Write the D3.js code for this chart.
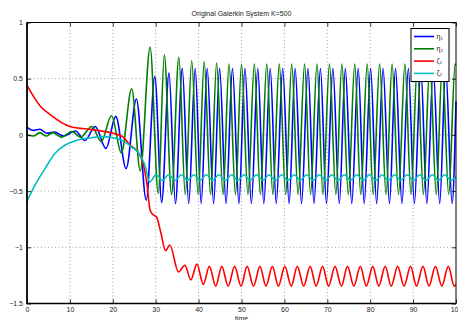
<!DOCTYPE html>
<html>
<head>
<meta charset="utf-8">
<script src="https://cdn.jsdelivr.net/npm/d3@7"></script>
<style>
  html, body { margin: 0; padding: 0; background: #fff; }
  svg { display: block; font-family: 'Liberation Sans', Arial, sans-serif; }
</style>
</head>
<body>
<div id="chart"></div>
<script>
// values, [time, value]
const eta1 = [
  [0, 0.07], [1.5, 0.04], [3, 0.05], [4.6, 0.015], [6.5, 0.025], [8.5, -0.01], [11.3, 0.035],
  [13.5, -0.05], [15.9, 0.075], [18.4, -0.12], [20.7, 0.165], [23.1, -0.30], [25.5, 0.32],
  [27.8, -0.58], [29.8, 0.52], [31.4, -0.60], [33.1, 0.55], [34.6, -0.61], [36.2, 0.59],
  [37.7, -0.61], [39.2, 0.59], [40.6, -0.61], [42.0, 0.59], [43.5, -0.61], [44.9, 0.59],
  [46.4, -0.61], [47.9, 0.59], [49.4, -0.61], [50.8, 0.59], [52.3, -0.61], [53.8, 0.59],
  [55.2, -0.61], [56.7, 0.59], [58.1, -0.61], [59.6, 0.59], [61.1, -0.61], [62.5, 0.59],
  [64.0, -0.61], [65.5, 0.59], [66.9, -0.61], [68.4, 0.59], [69.8, -0.61], [71.3, 0.59],
  [72.8, -0.61], [74.2, 0.59], [75.7, -0.61], [77.2, 0.59], [78.6, -0.61], [80.1, 0.59],
  [81.5, -0.61], [83.0, 0.59], [84.5, -0.61], [85.9, 0.59], [87.4, -0.61], [88.9, 0.59],
  [90.3, -0.61], [91.8, 0.59], [93.2, -0.61], [94.7, 0.59], [96.2, -0.61], [97.6, 0.59],
  [99.1, -0.61], [100, 0.3]
];
const eta2 = [
  [0, 0.0], [1.5, -0.01], [3, 0.02], [4.5, -0.01], [6, 0.02], [8, -0.02], [10.5, 0.03],
  [12.5, -0.02], [15.1, 0.075], [17.3, -0.06], [19.7, 0.17], [22.0, -0.16], [24.4, 0.41],
  [26.4, -0.32], [28.7, 0.78], [30.6, -0.52], [32.0, 0.71], [33.7, -0.53], [35.4, 0.69],
  [36.9, -0.53], [38.4, 0.66], [39.9, -0.53], [41.3, 0.65], [42.8, -0.53], [44.2, 0.64],
  [45.7, -0.53], [47.1, 0.63], [48.6, -0.53], [50.0, 0.63], [51.5, -0.53], [53.0, 0.63],
  [54.4, -0.53], [55.9, 0.63], [57.3, -0.53], [58.8, 0.63], [60.3, -0.53], [61.7, 0.63],
  [63.2, -0.53], [64.7, 0.63], [66.1, -0.53], [67.6, 0.63], [69.0, -0.53], [70.5, 0.63],
  [72.0, -0.53], [73.4, 0.63], [74.9, -0.53], [76.4, 0.63], [77.8, -0.53], [79.3, 0.63],
  [80.7, -0.53], [82.2, 0.63], [83.7, -0.53], [85.1, 0.63], [86.6, -0.53], [88.1, 0.63],
  [89.5, -0.53], [91.0, 0.63], [92.4, -0.53], [93.9, 0.63], [95.4, -0.53], [96.8, 0.63],
  [98.3, -0.53], [99.8, 0.63], [100, 0.62]
];
const zeta1 = [
  [0, 0.44], [3, 0.26], [5.4, 0.18], [10, 0.075], [15.5, 0.045], [20, 0.015], [22.3, -0.015],
  [24, -0.09], [26, -0.16], [27.1, -0.26], [28, -0.45], [28.7, -0.67], [29.4, -0.71],
  [30.2, -0.73], [31.2, -0.87], [32.3, -1.03], [33.3, -0.98], [35.3, -1.22], [36.8, -1.16],
  [38.2, -1.29], [39.6, -1.15], [41.1, -1.33], [42.5, -1.17], [44.0, -1.345], [45.4, -1.17],
  [46.9, -1.345], [48.4, -1.17], [49.9, -1.345], [51.3, -1.17], [52.8, -1.345], [54.3, -1.17],
  [55.7, -1.345], [57.2, -1.17], [58.6, -1.345], [60.1, -1.17], [61.6, -1.345], [63.0, -1.17],
  [64.5, -1.345], [66.0, -1.17], [67.4, -1.345], [68.9, -1.17], [70.3, -1.345], [71.8, -1.17],
  [73.3, -1.345], [74.7, -1.17], [76.2, -1.345], [77.7, -1.17], [79.1, -1.345], [80.6, -1.17],
  [82.0, -1.345], [83.5, -1.17], [84.9, -1.345], [86.4, -1.17], [87.9, -1.345], [89.4, -1.17],
  [90.8, -1.345], [92.3, -1.17], [93.7, -1.345], [95.2, -1.17], [96.7, -1.345], [98.2, -1.17],
  [99.6, -1.345], [100, -1.33]
];
const zeta2 = [
  [0, -0.59], [1.9, -0.445], [4.2, -0.30], [6.5, -0.165], [8.9, -0.09], [11.2, -0.053],
  [13.1, -0.035], [15, -0.025], [17.5, -0.015], [20, -0.025], [22.5, -0.055], [24.5, -0.11],
  [26.2, -0.17], [27.5, -0.27], [28.6, -0.42], [30.1, -0.355], [31.6, -0.405], [33.0, -0.355],
  [34.5, -0.405], [36.0, -0.355], [37.4, -0.405], [38.9, -0.355], [40.3, -0.405], [41.8, -0.355],
  [43.3, -0.405], [44.7, -0.355], [46.2, -0.405], [47.7, -0.355], [49.1, -0.405], [50.6, -0.355],
  [52.0, -0.405], [53.5, -0.355], [55.0, -0.405], [56.4, -0.355], [57.9, -0.405], [59.4, -0.355],
  [60.8, -0.405], [62.3, -0.355], [63.7, -0.405], [65.2, -0.355], [66.7, -0.405], [68.1, -0.355],
  [69.6, -0.405], [71.1, -0.355], [72.5, -0.405], [74.0, -0.355], [75.4, -0.405], [76.9, -0.355],
  [78.4, -0.405], [79.8, -0.355], [81.3, -0.405], [82.8, -0.355], [84.2, -0.405], [85.7, -0.355],
  [87.1, -0.405], [88.6, -0.355], [90.1, -0.405], [91.5, -0.355], [93.0, -0.405], [94.5, -0.355],
  [95.9, -0.405], [97.4, -0.355], [98.8, -0.405], [100, -0.37]
];

const seriesNames = ['η₁', 'η₂', 'ζ₂', 'ζ₂'];
const seriesColors = ['#0000ff', '#008000', '#ff0000', '#00bfbf'];
const xTicks = [0, 10, 20, 30, 40, 50, 60, 70, 80, 90, 100];
const yTicks = [1, 0.5, 0, -0.5, -1, -1.5];
const yTickLabels = ['1', '0.5', '0', '\u22120.5', '\u22121', '\u22121.5'];
const titleText = 'Original Galerkin System K=500';
const xLabelText = 'time';

const W = 458, H = 320;
const margin = { top: 22.5, right: 2, bottom: 16.5, left: 27 };
const width = W - margin.left - margin.right;
const height = H - margin.top - margin.bottom;

const svg = d3.select('#chart')
  .append('svg')
  .attr('width', W)
  .attr('height', H);

const g = svg.append('g')
  .attr('transform', `translate(${margin.left},${margin.top})`);

const x = d3.scaleLinear().domain([0, 100]).range([0, width]);
const y = d3.scaleLinear().domain([-1.5, 1]).range([height, 0]);

// dotted grid
g.append('g')
  .selectAll('line')
  .data(xTicks.slice(1, -1))
  .enter()
  .append('line')
  .attr('x1', d => x(d)).attr('x2', d => x(d))
  .attr('y1', 0).attr('y2', height)
  .attr('stroke', '#8a8a8a')
  .attr('stroke-width', 0.8)
  .attr('stroke-dasharray', '1,2.5');

g.append('g')
  .selectAll('line')
  .data(yTicks.slice(1, -1))
  .enter()
  .append('line')
  .attr('x1', 0).attr('x2', width)
  .attr('y1', d => y(d)).attr('y2', d => y(d))
  .attr('stroke', '#8a8a8a')
  .attr('stroke-width', 0.8)
  .attr('stroke-dasharray', '1,2.5');

// series
const line = d3.line()
  .x(d => x(d[0]))
  .y(d => y(d[1]))
  .curve(d3.curveMonotoneX);

[eta1, eta2, zeta1, zeta2].forEach((s, i) => {
  g.append('path')
    .datum(s)
    .attr('fill', 'none')
    .attr('stroke', seriesColors[i])
    .attr('stroke-width', 1.6)
    .attr('stroke-linejoin', 'round')
    .attr('d', line);
});

// axes, ticks pointing inward on all four sides
const styleAxis = sel => {
  sel.select('.domain').remove();
  sel.selectAll('.tick line').attr('stroke', '#000').attr('stroke-width', 0.8);
  sel.selectAll('text')
    .style('font-family', "'Liberation Sans', Arial, sans-serif")
    .style('font-size', '7px')
    .attr('fill', '#222');
};

g.append('g')
  .attr('transform', `translate(0,${height})`)
  .call(d3.axisBottom(x).tickValues(xTicks).tickFormat(d3.format('d')).tickSizeInner(-4).tickSizeOuter(0).tickPadding(4))
  .call(styleAxis);

g.append('g')
  .call(d3.axisTop(x).tickValues(xTicks).tickFormat('').tickSizeInner(-4).tickSizeOuter(0))
  .call(styleAxis);

g.append('g')
  .call(d3.axisLeft(y).tickValues(yTicks).tickFormat((d, i) => yTickLabels[i]).tickSizeInner(-4).tickSizeOuter(0).tickPadding(4))
  .call(styleAxis);

g.append('g')
  .attr('transform', `translate(${width},0)`)
  .call(d3.axisRight(y).tickValues(yTicks).tickFormat('').tickSizeInner(-4).tickSizeOuter(0))
  .call(styleAxis);

// frame
g.append('rect')
  .attr('x', 0).attr('y', 0)
  .attr('width', width).attr('height', height)
  .attr('fill', 'none')
  .attr('stroke', '#000')
  .attr('stroke-width', 1);
g.append('path')
  .attr('d', `M0,0V${height}H${width}`)
  .attr('fill', 'none')
  .attr('stroke', '#000')
  .attr('stroke-width', 1.6);

// title and x label
svg.append('text')
  .attr('x', margin.left + width / 2)
  .attr('y', 16)
  .attr('text-anchor', 'middle')
  .style('font-size', '7px')
  .attr('fill', '#222')
  .text(titleText);

svg.append('text')
  .attr('x', margin.left + width / 2)
  .attr('y', 321)
  .attr('text-anchor', 'middle')
  .style('font-size', '7px')
  .attr('fill', '#222')
  .text(xLabelText);

// legend
const legend = svg.append('g').attr('transform', 'translate(411,28.5)');
legend.append('rect')
  .attr('width', 38).attr('height', 53)
  .attr('fill', '#fff')
  .attr('stroke', '#000')
  .attr('stroke-width', 1);

seriesNames.forEach((name, i) => {
  const ly = 8 + i * 12.3;
  legend.append('line')
    .attr('x1', 3).attr('x2', 23)
    .attr('y1', ly).attr('y2', ly)
    .attr('stroke', seriesColors[i])
    .attr('stroke-width', 1.6);
  legend.append('text')
    .attr('x', 25.5)
    .attr('y', ly + 2)
    .style('font-size', '7px')
    .attr('fill', '#222')
    .text(name);
});
</script>
</body>
</html>
